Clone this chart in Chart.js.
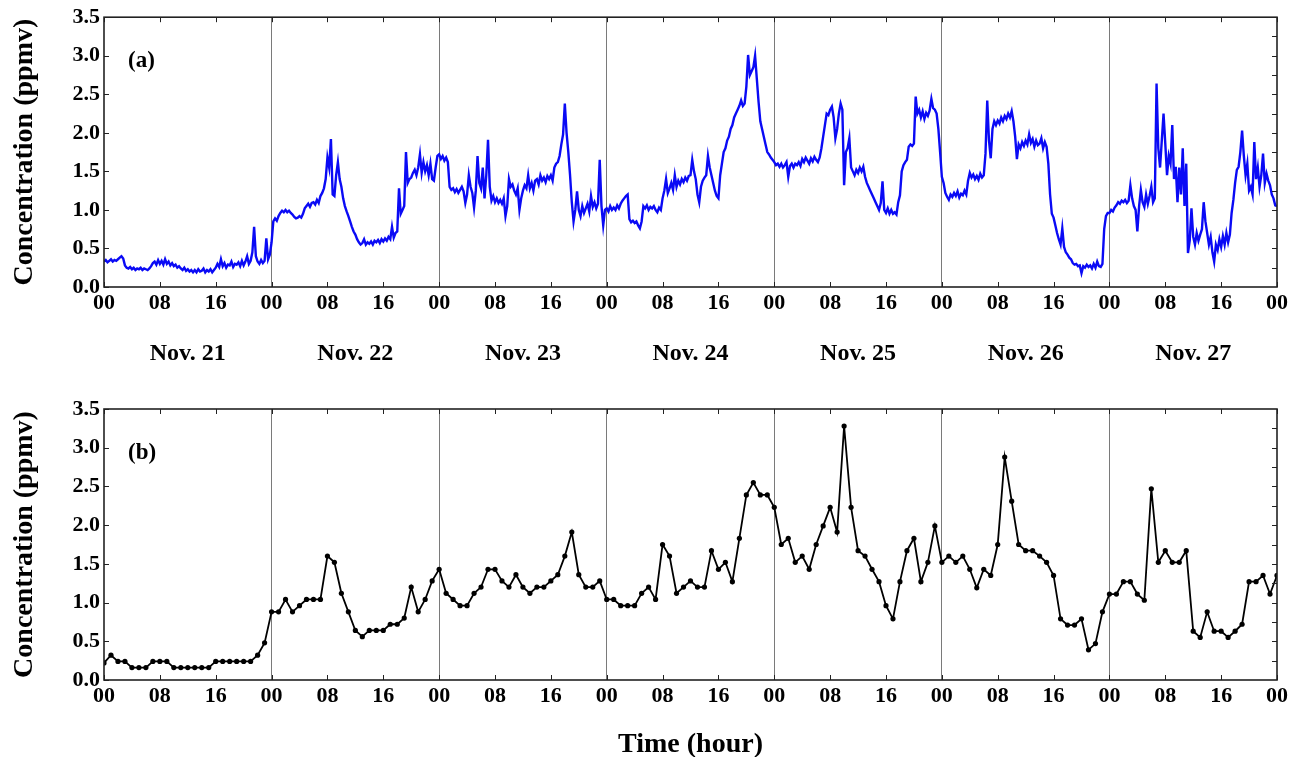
<!DOCTYPE html>
<html>
<head>
<meta charset="utf-8">
<script src="https://cdn.jsdelivr.net/npm/chart.js@4.4.1/dist/chart.umd.min.js"></script>
<style>
  html, body { margin: 0; padding: 0; background: #fff; }
  #wrap { position: relative; width: 1298px; height: 757px; }
  #chartA { position: absolute; left: 0; top: 0; }
  #chartB { position: absolute; left: 0; top: 380px; }
</style>
</head>
<body>
<div id="wrap">
  <canvas id="chartA" width="1298" height="380"></canvas>
  <canvas id="chartB" width="1298" height="377"></canvas>
</div>
<script>
// Day labels under panel (a)
const dayLabels = ['Nov. 21', 'Nov. 22', 'Nov. 23', 'Nov. 24', 'Nov. 25', 'Nov. 26', 'Nov. 27'];

// Panel (a): high resolution concentration, 4 readings per hour (ppmv)
const hiresNov21 = [
  0.33,0.35,0.32,0.34, 0.36,0.33,0.35,0.34, 0.36,0.38,0.40,0.37, 0.28,0.25,0.24,0.26,
  0.23,0.25,0.22,0.24, 0.23,0.25,0.22,0.24, 0.23,0.22,0.24,0.27, 0.31,0.33,0.29,0.35,
  0.30,0.34,0.29,0.36, 0.30,0.33,0.28,0.31, 0.27,0.29,0.25,0.27, 0.24,0.22,0.25,0.21,
  0.23,0.20,0.22,0.19, 0.22,0.19,0.23,0.20, 0.21,0.24,0.19,0.22, 0.20,0.23,0.19,0.22,
  0.25,0.30,0.26,0.36, 0.27,0.31,0.25,0.29, 0.28,0.33,0.26,0.30, 0.29,0.32,0.27,0.34,
  0.28,0.33,0.40,0.30, 0.34,0.45,0.78,0.40, 0.33,0.30,0.35,0.31, 0.34,0.63,0.36,0.42
];
const hiresNov22 = [
  0.58,0.85,0.89,0.86, 0.92,0.96,0.99,0.97, 1.00,0.97,0.99,0.96, 0.94,0.91,0.89,0.90,
  0.92,0.90,0.95,1.02, 1.05,1.08,1.04,1.09, 1.10,1.07,1.13,1.09, 1.18,1.22,1.28,1.40,
  1.68,1.55,1.92,1.20, 1.18,1.45,1.62,1.40, 1.30,1.15,1.05,0.98, 0.92,0.85,0.78,0.72,
  0.68,0.62,0.58,0.55, 0.57,0.62,0.55,0.58, 0.56,0.59,0.55,0.60, 0.58,0.61,0.57,0.62,
  0.59,0.63,0.60,0.65, 0.62,0.78,0.64,0.70, 0.72,1.28,0.95,1.00, 1.05,1.75,1.35,1.40,
  1.42,1.48,1.52,1.45, 1.55,1.72,1.48,1.62, 1.50,1.58,1.45,1.60, 1.40,1.38,1.55,1.70
];
const hiresNov23 = [
  1.72,1.66,1.70,1.64, 1.68,1.62,1.30,1.26, 1.28,1.23,1.27,1.22, 1.26,1.30,1.24,1.09,
  1.20,1.45,1.30,1.22, 1.03,1.25,1.70,1.35, 1.28,1.55,1.15,1.45, 1.91,1.30,1.12,1.18,
  1.10,1.15,1.09,1.13, 1.08,1.15,0.92,1.05, 1.40,1.30,1.33,1.25, 1.20,1.28,1.00,1.15,
  1.25,1.32,1.28,1.45, 1.28,1.35,1.25,1.38, 1.40,1.33,1.45,1.38, 1.42,1.36,1.44,1.40,
  1.45,1.38,1.55,1.60, 1.62,1.70,1.85,1.98, 2.38,2.00,1.75,1.45, 1.10,0.85,1.00,1.24,
  1.00,0.92,1.05,0.96, 1.02,1.08,0.98,1.18, 1.04,1.10,1.02,1.08, 1.65,1.05,0.80,1.00
];
const hiresNov24 = [
  1.02,0.98,1.05,1.00, 1.03,1.00,1.06,1.02, 1.08,1.12,1.15,1.18, 1.20,0.88,0.84,0.86,
  0.83,0.85,0.80,0.76, 0.85,1.05,1.02,1.06, 1.00,1.04,1.02,1.05, 1.00,0.97,1.03,1.00,
  1.15,1.25,1.40,1.22, 1.28,1.35,1.26,1.45, 1.30,1.38,1.33,1.40, 1.36,1.42,1.38,1.44,
  1.45,1.65,1.50,1.40, 1.20,1.10,1.30,1.38, 1.42,1.45,1.70,1.55, 1.45,1.35,1.25,1.18,
  1.15,1.45,1.60,1.75, 1.80,1.90,1.95,2.05, 2.10,2.20,2.25,2.30, 2.35,2.42,2.35,2.38,
  2.60,3.01,2.75,2.80, 2.85,3.00,2.70,2.40, 2.15,2.05,1.95,1.85, 1.75,1.72,1.68,1.65
];
const hiresNov25 = [
  1.62,1.58,1.60,1.56, 1.60,1.55,1.58,1.62, 1.43,1.57,1.60,1.55, 1.60,1.58,1.62,1.57,
  1.66,1.62,1.68,1.64, 1.60,1.67,1.63,1.69, 1.65,1.62,1.68,1.80, 1.95,2.10,2.25,2.23,
  2.30,2.34,2.20,1.93, 2.05,2.25,2.38,2.30, 1.32,1.75,1.80,1.93, 1.55,1.50,1.45,1.52,
  1.48,1.55,1.50,1.56, 1.43,1.35,1.30,1.25, 1.20,1.15,1.10,1.05, 1.00,1.09,1.37,1.00,
  0.96,1.02,0.95,1.00, 0.95,0.97,0.94,1.10, 1.19,1.50,1.58,1.62, 1.65,1.82,1.85,1.83,
  1.86,2.47,2.25,2.30, 2.20,2.28,2.18,2.26, 2.22,2.29,2.44,2.32, 2.30,2.25,2.05,1.75
];
const hiresNov26 = [
  1.43,1.35,1.22,1.17, 1.13,1.20,1.17,1.22, 1.18,1.24,1.16,1.21, 1.19,1.25,1.20,1.38,
  1.48,1.42,1.46,1.40, 1.44,1.39,1.47,1.42, 1.45,1.73,2.42,1.90, 1.67,2.05,2.15,2.10,
  2.16,2.12,2.20,2.15, 2.22,2.18,2.25,2.20, 2.28,2.15,1.95,1.66, 1.85,1.80,1.88,1.83,
  1.90,1.85,1.98,1.87, 1.92,1.82,1.90,1.84, 1.86,1.93,1.80,1.88, 1.82,1.60,1.20,0.95,
  0.90,0.80,0.70,0.62, 0.55,0.76,0.52,0.45, 0.42,0.38,0.36,0.31, 0.29,0.30,0.27,0.28,
  0.18,0.27,0.25,0.29, 0.26,0.28,0.24,0.30, 0.25,0.33,0.27,0.26, 0.30,0.75,0.92,0.96
];
const hiresNov27 = [
  0.96,1.00,0.98,1.03, 1.06,1.10,1.08,1.12, 1.10,1.13,1.09,1.12, 1.32,1.15,1.05,1.00,
  0.72,1.05,1.26,1.10, 1.04,1.20,1.08,1.18, 1.30,1.10,1.15,2.64, 1.80,1.55,1.90,2.25,
  1.86,1.45,1.70,1.60, 2.10,1.40,1.56,1.10, 1.55,1.20,1.80,1.05, 1.60,0.44,0.60,1.02,
  0.65,0.55,0.70,0.60, 0.68,0.75,1.10,0.85, 0.70,0.55,0.65,0.45, 0.33,0.55,0.48,0.62,
  0.52,0.66,0.55,0.70, 0.58,0.68,0.96,1.13, 1.35,1.52,1.56,1.75, 2.03,1.70,1.45,1.60,
  1.25,1.30,1.20,1.88, 1.40,1.55,1.30,1.45, 1.73,1.35,1.47,1.38, 1.32,1.20,1.15,1.06
];
const hiresEnd = [1.05];

// Panel (b): hourly means (ppmv), hour 0 of each day first
const hourlyNov21 = [0.22,0.32,0.24,0.24,0.16,0.16,0.16,0.24,0.24,0.24,0.16,0.16,
                     0.16,0.16,0.16,0.16,0.24,0.24,0.24,0.24,0.24,0.24,0.32,0.48];
const hourlyNov22 = [0.88,0.88,1.04,0.88,0.96,1.04,1.04,1.04,1.60,1.52,1.12,0.88,
                     0.64,0.56,0.64,0.64,0.64,0.72,0.72,0.80,1.20,0.88,1.04,1.28];
const hourlyNov23 = [1.43,1.12,1.04,0.96,0.96,1.12,1.20,1.43,1.43,1.28,1.20,1.36,
                     1.20,1.12,1.20,1.20,1.28,1.36,1.60,1.91,1.36,1.20,1.20,1.28];
const hourlyNov24 = [1.04,1.04,0.96,0.96,0.96,1.12,1.20,1.04,1.75,1.60,1.12,1.20,
                     1.28,1.20,1.20,1.67,1.43,1.52,1.27,1.83,2.39,2.55,2.39,2.39];
const hourlyNov25 = [2.23,1.75,1.83,1.52,1.60,1.43,1.75,1.99,2.23,1.91,3.28,2.23,
                     1.67,1.60,1.43,1.27,0.96,0.79,1.27,1.67,1.83,1.27,1.52,1.99];
const hourlyNov26 = [1.52,1.60,1.52,1.60,1.43,1.19,1.43,1.35,1.75,2.88,2.31,1.75,
                     1.67,1.67,1.60,1.52,1.35,0.79,0.71,0.71,0.79,0.39,0.47,0.88];
const hourlyNov27 = [1.11,1.11,1.27,1.27,1.11,1.03,2.47,1.52,1.67,1.52,1.52,1.67,
                     0.63,0.55,0.88,0.63,0.63,0.55,0.63,0.72,1.27,1.27,1.35,1.11];
const hourlyEnd = [1.35];

const hiresValues = [].concat(hiresNov21, hiresNov22, hiresNov23, hiresNov24,
  hiresNov25, hiresNov26, hiresNov27, hiresEnd);
const hourlyValues = [].concat(hourlyNov21, hourlyNov22, hourlyNov23, hourlyNov24,
  hourlyNov25, hourlyNov26, hourlyNov27, hourlyEnd);

const HOURS = dayLabels.length * 24;
const serif = "'Liberation Serif', 'Times New Roman', serif";

Chart.defaults.font.family = serif;
Chart.defaults.font.weight = 'bold';
Chart.defaults.color = '#000';

// Box frame plus inward tick marks, like the original plotting package
const frameTicks = {
  id: 'frameTicks',
  afterDatasetsDraw(chart) {
    const { ctx, chartArea: a, scales: { x, y } } = chart;
    const len = 5;
    ctx.save();
    ctx.strokeStyle = '#222';
    ctx.lineWidth = 1;
    ctx.beginPath();
    x.ticks.forEach(t => {
      const px = Math.round(x.getPixelForValue(t.value)) + 0.5;
      ctx.moveTo(px, a.bottom); ctx.lineTo(px, a.bottom - len);
      ctx.moveTo(px, a.top); ctx.lineTo(px, a.top + len);
    });
    y.ticks.forEach(t => {
      const py = Math.round(y.getPixelForValue(t.value)) + 0.5;
      ctx.moveTo(a.left, py); ctx.lineTo(a.left + len, py);
    });
    for (let v = 0.25; v < y.max; v += 0.25) {
      const py = Math.round(y.getPixelForValue(v)) + 0.5;
      ctx.moveTo(a.right, py); ctx.lineTo(a.right - len, py);
    }
    ctx.stroke();
    ctx.lineWidth = 1.6;
    ctx.strokeRect(a.left, a.top, a.right - a.left, a.bottom - a.top);
    ctx.restore();
  }
};

// "(a)" / "(b)" tag inside the plot
const panelLabel = {
  id: 'panelLabel',
  afterDraw(chart, args, opts) {
    const { ctx, chartArea: a } = chart;
    ctx.save();
    ctx.font = 'bold 23px ' + serif;
    ctx.fillStyle = '#000';
    ctx.textBaseline = 'middle';
    ctx.fillText(opts.text, a.left + 24, a.top + 44);
    ctx.restore();
  }
};

function dayLineColor(ctx) {
  const v = ctx.tick ? ctx.tick.value : -1;
  return (v > 0 && v < HOURS && v % 24 === 0) ? '#7a7a7a' : 'rgba(0,0,0,0)';
}

function hourAxis(extra) {
  return Object.assign({
    type: 'linear',
    min: 0,
    max: HOURS,
    position: 'bottom',
    weight: 0,
    border: { display: false },
    grid: { drawTicks: false, color: dayLineColor, lineWidth: 1 },
    ticks: {
      stepSize: 8,
      autoSkip: false,
      maxRotation: 0,
      padding: 3,
      font: { size: 22, weight: 'bold' },
      callback: v => String(v % 24).padStart(2, '0')
    }
  }, extra);
}

function concAxis() {
  return {
    min: 0,
    max: 3.5,
    border: { display: false },
    grid: { display: false, drawTicks: false },
    ticks: {
      stepSize: 0.5,
      padding: 4,
      font: { size: 22, weight: 'bold' },
      callback: v => v.toFixed(1)
    },
    title: {
      display: true,
      text: 'Concentration (ppmv)',
      font: { size: 28, weight: 'bold' },
      padding: { top: 8, bottom: 0 }
    },
    afterFit: s => { s.width = 104; }
  };
}

new Chart(document.getElementById('chartA'), {
  type: 'line',
  data: {
    datasets: [{
      data: hiresValues.map((v, i) => ({ x: i / 4, y: v })),
      borderColor: '#0a0af5',
      borderWidth: 2.4,
      pointRadius: 0,
      tension: 0
    }]
  },
  options: {
    responsive: false,
    animation: false,
    layout: { padding: { top: 17, right: 21, left: 0, bottom: 0 } },
    plugins: { legend: { display: false }, tooltip: { enabled: false }, panelLabel: { text: '(a)' } },
    scales: {
      x: hourAxis({ afterFit: s => { s.height = 36; } }),
      xDay: {
        type: 'linear',
        min: 0,
        max: HOURS,
        position: 'bottom',
        weight: 1,
        border: { display: false },
        grid: { display: false, drawTicks: false },
        afterBuildTicks: s => { s.ticks = dayLabels.map((d, i) => ({ value: i * 24 + 12 })); },
        ticks: {
          autoSkip: false,
          maxRotation: 0,
          padding: 16,
          font: { size: 24, weight: 'bold' },
          callback: (v, i) => dayLabels[i]
        },
        afterFit: s => { s.height = 57; }
      },
      y: concAxis()
    }
  },
  plugins: [frameTicks, panelLabel]
});

new Chart(document.getElementById('chartB'), {
  type: 'line',
  data: {
    datasets: [{
      data: hourlyValues.map((v, i) => ({ x: i, y: v })),
      borderColor: '#000',
      borderWidth: 1.8,
      pointRadius: 2.6,
      pointBackgroundColor: '#000',
      pointBorderWidth: 0,
      tension: 0
    }]
  },
  options: {
    responsive: false,
    animation: false,
    layout: { padding: { top: 29, right: 21, left: 0, bottom: 0 } },
    plugins: { legend: { display: false }, tooltip: { enabled: false }, panelLabel: { text: '(b)' } },
    scales: {
      x: hourAxis({
        title: {
          display: true,
          text: 'Time (hour)',
          font: { size: 28, weight: 'bold', lineHeight: 0.9 },
          padding: { top: 0, bottom: 0 }
        },
        afterFit: s => { s.height = 77; }
      }),
      y: concAxis()
    }
  },
  plugins: [frameTicks, panelLabel]
});
</script>
</body>
</html>
